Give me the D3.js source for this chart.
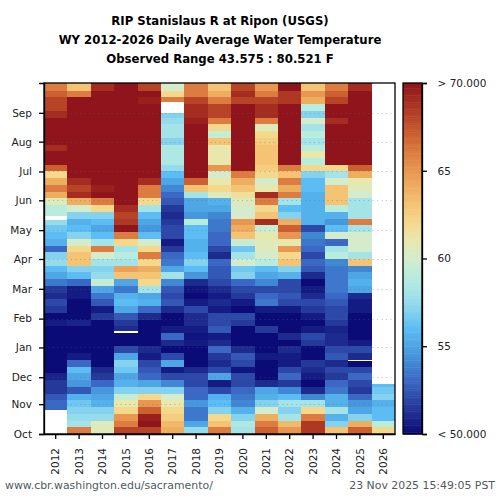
<!DOCTYPE html>
<html>
<head>
<meta charset="utf-8">
<script src="https://cdn.jsdelivr.net/npm/d3@7"></script>
<style>
    html, body { margin: 0; padding: 0; background: #fff; }
    text { font-family: "DejaVu Sans", sans-serif; }
</style>
</head>
<body>
<svg id="chart" width="500" height="500"></svg>
<script>
const titleLines = [
    'RIP Stanislaus R at Ripon (USGS)',
    'WY 2012-2026 Daily Average Water Temperature',
    'Observed Range 43.575 : 80.521 F'
];
const years = [2012, 2013, 2014, 2015, 2016, 2017, 2018, 2019, 2020, 2021, 2022, 2023, 2024, 2025, 2026];
const monthNames = ['Oct', 'Nov', 'Dec', 'Jan', 'Feb', 'Mar', 'Apr', 'May', 'Jun', 'Jul', 'Aug', 'Sep'];
const monthDays = [0, 31, 59, 90, 120, 151, 182, 212, 243, 273, 304, 334];

// weekly values in deg F, Oct 1 first
const wt2012 = [null, null, null, 53, 53, 52.5, 51.5, 51.5, 50.8, 50,
    50, 50, 50, 50, 50, 50, 50.5, 50, 51.5, 52,
    51, 51.5, 53.5, 55, 56, 57.5, 57, 53, 55.5, 56,
    56.5, 57.5, 59, 59, 60.5, 64, 66, 64, 62, 67,
    70, 70, 69, 70, 70, 70, 70, 69, 68, 68,
    67, 66];
const wt2013 = [66, 58, 57.5, 57, 56.5, 55.5, 52.5, 54.5, 55, 56,
    53, 50.5, 50, 50, 50, 50, 50.8, 50, 50, 50,
    50.5, 50.5, 53, 56, 57, 63, 63, 62, 60, 57,
    56, 55.5, 57, 60, 64, 69, 68, 69, 70, 70,
    70, 70, 70, 70, 70, 70, 70, 70, 70, 70,
    66, 63];
const wt2014 = [60.5, 60.5, 57.5, 57, 55.5, 55, 54.5, 53, 51.5, 51,
    50, 50, 50, 50, 50, 50, 50, 51.5, 50.5, 52.5,
    53.5, 55, 59.5, 57.5, 57, 58, 60, 66, 58, 56,
    55, 56, 57, 62, 66, 70, 69.5, 70, 70, 70,
    70, 70, 70, 70, 70, 70, 70, 70, 70, 70,
    70, 69];
const wt2015 = [68, 66, 65, 62, 61, 59.5, 57, 55.5, 55, 56.5,
    57, 55, 52, 50, 50, 51, 51.5, 52.5, 55, 56,
    55.5, 53.5, 55, 63, 64.5, 58, 59, 58, 62, 66,
    70, 68.5, 68, 69, 70, 70, 70, 70, 70, 70,
    70, 70, 70, 70, 70, 70, 70, 70, 70, 70,
    70, 70];
const wt2016 = [68, 70, 69.5, 67, 65, 62, 57, 55, 53, 52.5,
    52, 50.5, 51, 50, 50, 50, 50, 51, 53, 55.5,
    55, 58, 62, 63, 64, 62, 66, 62, 60, 56,
    54.5, 55, 56, 58, 62, 66, 66, 69, 70, 70,
    70, 70, 70, 70, 70, 70, 70, 70, 70, 69.5,
    70, 68];
const wt2017 = [64, 63.5, 62.5, 62, 61, 60, 57, 54, 52, 50.5,
    55, 52, 50, 51, 53, 50.5, 50, 50, 51, 52.5,
    52, 52.5, 54, 58, 55, 53.5, 53, 51.5, 50.5, 52,
    52, 51.5, 51, 51.5, 52.5, 53, 54, 55, 56, 57.5,
    58.5, 58.5, 58.5, 57, 58, 58, 57.5, 57, null, 66,
    62, 60];
const wt2018 = [57.5, 55, 53.5, 53.5, 54.5, 53, 53, 52, 52, 51,
    50, 50, 50, 50.5, 50.3, 50.5, 51, 51, 52, 50.5,
    50, 50.3, 51, 54.5, 56, 57, 56, 55.5, 55.5, 56,
    56, 59, 54.5, 55, 55, 58, 63, 67, 70, 70,
    70, 70, 70, 70, 70, 70, 69.5, 69, 69, 68,
    66, 66];
const wt2019 = [66, 63, 62, 57, 56, 55.5, 52, 50.5, 55, 52,
    51, 51.5, 53, 51, 50.5, 52.5, 52, 52, 50.5, 51,
    50.5, 51, 52, 52.5, 52.5, 53, 51, 52, 53, 53,
    53.5, 53.5, 54, 55, 55.5, 60.5, 62, 61, 60, 65,
    61, 61, 61, 63, 59.5, 62, 66, 68, 68, 66,
    64, 63];
const wt2020 = [58, 58.5, 57, 55.5, 54, 53.5, 53, 52, 52, 50.3,
    52, 52.5, 51, 50, 50, 50, 51.5, 52, 50, 50.5,
    51.5, 52, 53, 57, 56.5, 60, 58, 56.5, 59.5, 63,
    64, 65, 60, 60, 60.5, 61.5, 63, 64, 66, 70,
    70, 70, 70, 70, 70, 70, 70, 70, 70, 68,
    69, 68];
const wt2021 = [67, 66, 64, 60, 57, 55.5, 55, 51, 50, 50,
    50, 50.5, 50, 50, 50, 51.5, 50, 50, 50.5, 53.5,
    53, 52, 54, 55, 56, 59, 60, 60.5, 60.5, 61,
    59.5, 69, 63, 62, 66, 69, 61, 60, 62, 62.5,
    63, 63, 63, 62.5, 62, 60.5, 66, 69, 69, 68,
    66, 65];
const wt2022 = [65, 63.5, 58, 57, 58, 56, 54, 51.5, 53, 52,
    50.5, 50.5, 51, 50, 51, 50, 50, 50, 50.5, 52,
    52.5, 52, 52, 55.5, 57, 63, 62, 65, 61, 65,
    67, 64, 57, 56, 58, 66, 64, 66, 63, 66,
    70, 70, 70, 70, 70, 70, 70, 70, 70, 68.5,
    68.5, 70];
const wt2023 = [68.5, 68.5, 66, 62, 58, 54, 51, 50, 50.5, 51,
    51.5, 50, 50, 51.5, 52, 50.5, 50, 50.5, 51.5, 52,
    51, 50.5, 50, 51, 52.5, 53, 52, 53, 53.5, 54,
    52, 55.5, 55.5, 55.5, 55.5, 55.5, 56, 56, 57, 62,
    59, 61, 59, 58, 59, 58, 60, 57, 59, 64,
    65, 63];
const wt2024 = [63, 57, 55.5, 58, 55.5, 55.5, 53.5, 53, 51.5, 52,
    51, 52.5, 52, 51, 51, 50.8, 51.5, 52, 52, 52.5,
    53, 53.5, 53.5, 53.5, 53.5, 54, 59, 58, 53, 60,
    56, 54.5, 55.5, 59, 63, 63, 63, 60, 58, 62,
    70, 70, 70, 70, 70, 70, 69, 70, 70, 68,
    67, 66];
const wt2025 = [67, 64, 57, 55, 54.5, 53, 51.5, 52, 53, 52,
    50, 51, 52, 50.5, 50, 50, 50, 50, 50.5, 50.5,
    51, 55, 55.5, 55, 54, 63, 58, 60, 60, 60,
    58, 66, 58, 58, 58, 60, 60.5, 61, 64, 67,
    70, 70, 70, 70, 70, 70, 70, 70, 70, 70,
    70, 69];
const wt2026 = [62, 59, 56, 56, 55.5, 57, 56.5, 56];
const weeklyTemps = [wt2012, wt2013, wt2014, wt2015, wt2016, wt2017, wt2018, wt2019,
    wt2020, wt2021, wt2022, wt2023, wt2024, wt2025, wt2026];

// days without a reading, narrower than a week
const gapYears = [2012, 2012, 2015, 2017, 2025, 2026];
const gapFrom = [0, 222.5, 105.5, 333.5, 75.6, 52];
const gapTo = [25, 226.8, 106.6, 345, 76.7, 56];

const colorStops = [50, 51, 52, 53, 54, 55, 56, 57, 58, 59, 60, 61, 62, 63, 64, 65, 66, 67, 68, 69, 70];
const colorValues = ['#0b0b78', '#1d2a8e', '#2c48a8', '#3a68c4', '#4088d4', '#4ea6e4', '#5cbcf4',
    '#84d2ee', '#a4e4e8', '#b8ecdc', '#d4eccc', '#e8e8ac', '#f4d88c', '#f4c474', '#eeae60',
    '#e89650', '#dc7c40', '#cc6030', '#b84428', '#a42c20', '#8f141c'];
const colorTicks = [50, 55, 60, 65, 70];
const colorLabels = ['< 50.000', '55', '60', '65', '> 70.000'];

const sourceText = 'www.cbr.washington.edu/sacramento/';
const stampText = '23 Nov 2025 15:49:05 PST';

const svg = d3.select('#chart');
const plotTop = 83;
const plotBottom = 434;
const plotLeft = 44;
const plotRight = 395;
const daysInYear = 365;
const weekLength = 7;

const x = d3.scaleBand().domain(years).range([plotLeft, plotRight]);
const y = d3.scaleLinear().domain([0, daysInYear]).range([plotBottom, plotTop]);
const color = d3.scaleLinear().domain(colorStops).range(colorValues).clamp(true);
const barScale = d3.scaleLinear().domain([50, 70]).range([plotBottom, plotTop]);

svg.selectAll('.title')
    .data(titleLines)
    .enter()
    .append('text')
    .attr('class', 'title')
    .attr('x', 220)
    .attr('y', (d, i) => 25 + i * 19)
    .attr('text-anchor', 'middle')
    .attr('font-size', 11.7)
    .attr('font-weight', 'bold')
    .text(d => d);

const cells = [];
weeklyTemps.forEach((temps, col) => {
    temps.forEach((value, week) => {
        if (value !== null) {
            cells.push({ year: years[col], week, value });
        }
    });
});

const weekEnd = week => (week === 51 ? daysInYear : (week + 1) * weekLength);

svg.append('g')
    .selectAll('rect')
    .data(cells)
    .enter()
    .append('rect')
    .attr('x', d => x(d.year))
    .attr('width', x.bandwidth())
    .attr('y', d => y(weekEnd(d.week)))
    .attr('height', d => y(d.week * weekLength) - y(weekEnd(d.week)))
    .attr('fill', d => color(d.value))
    .attr('shape-rendering', 'crispEdges');

svg.append('g')
    .selectAll('rect')
    .data(gapYears)
    .enter()
    .append('rect')
    .attr('x', d => x(d))
    .attr('width', x.bandwidth())
    .attr('y', (d, i) => y(gapTo[i]))
    .attr('height', (d, i) => y(gapFrom[i]) - y(gapTo[i]))
    .attr('fill', '#fff')
    .attr('shape-rendering', 'crispEdges');

// dotted month lines over the cells
svg.append('g')
    .selectAll('line')
    .data(monthDays.slice(1))
    .enter()
    .append('line')
    .attr('x1', plotLeft)
    .attr('x2', plotRight)
    .attr('y1', d => Math.round(y(d)) + 0.5)
    .attr('y2', d => Math.round(y(d)) + 0.5)
    .attr('stroke', '#666')
    .attr('stroke-opacity', 0.4)
    .attr('stroke-dasharray', '1,3.5');

const yAxis = d3.axisLeft(y)
    .tickValues(monthDays)
    .tickSize(5)
    .tickPadding(7)
    .tickFormat((d, i) => monthNames[i]);

const xAxis = d3.axisBottom(x).tickSize(5).tickSizeOuter(0);

svg.append('g')
    .attr('class', 'axis')
    .attr('transform', `translate(${plotLeft},0)`)
    .call(yAxis);

const xGroup = svg.append('g')
    .attr('class', 'axis')
    .attr('transform', `translate(0,${plotBottom})`)
    .call(xAxis);

xGroup.selectAll('text')
    .attr('transform', 'rotate(-90)')
    .attr('text-anchor', 'end')
    .attr('x', -14)
    .attr('y', 0)
    .attr('dy', '0.35em');

svg.append('rect')
    .attr('x', plotLeft)
    .attr('y', plotTop)
    .attr('width', plotRight - plotLeft)
    .attr('height', plotBottom - plotTop)
    .attr('fill', 'none')
    .attr('stroke', '#000')
    .attr('stroke-width', 1.3);

// colour bar
const barLeft = 403;
const barWidth = 19;
const barSteps = d3.range(50, 70, 0.1);

svg.append('g')
    .selectAll('rect')
    .data(barSteps)
    .enter()
    .append('rect')
    .attr('x', barLeft)
    .attr('width', barWidth)
    .attr('y', d => barScale(d + 0.1))
    .attr('height', d => barScale(d) - barScale(d + 0.1) + 0.5)
    .attr('fill', d => color(d));

svg.append('rect')
    .attr('x', barLeft)
    .attr('y', plotTop)
    .attr('width', barWidth)
    .attr('height', plotBottom - plotTop)
    .attr('fill', 'none')
    .attr('stroke', '#000')
    .attr('stroke-width', 1.3);

const barAxis = d3.axisRight(barScale)
    .tickValues(colorTicks)
    .tickSize(5)
    .tickPadding(10.5)
    .tickFormat((d, i) => colorLabels[i]);

svg.append('g')
    .attr('class', 'axis')
    .attr('transform', `translate(${barLeft + barWidth},0)`)
    .call(barAxis);

svg.selectAll('.axis text').attr('font-size', 10.5).attr('fill', '#222');
svg.selectAll('.axis .domain').attr('stroke-width', 1.3);
svg.selectAll('.axis line').attr('stroke-width', 1.3);

svg.append('text')
    .attr('x', 5)
    .attr('y', 489)
    .attr('font-size', 10.9)
    .attr('fill', '#4f5a60')
    .text(sourceText);

svg.append('text')
    .attr('x', 495)
    .attr('y', 489)
    .attr('text-anchor', 'end')
    .attr('font-size', 10.9)
    .attr('fill', '#4f5a60')
    .text(stampText);
</script>
</body>
</html>
